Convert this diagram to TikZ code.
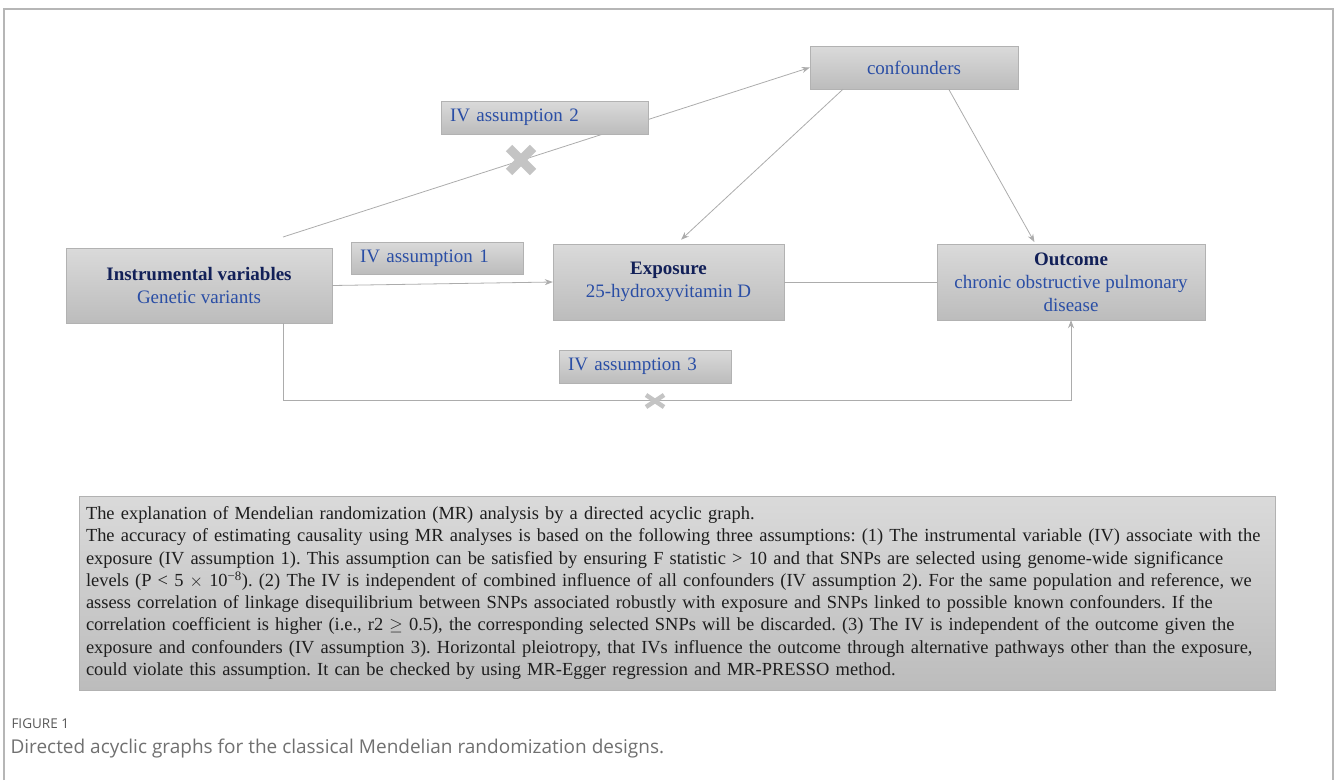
\documentclass[tikz,border=0pt]{standalone}
\usepackage{fontspec}
\setmainfont{Liberation Serif}
\newfontfamily\captionfont{Open Sans}
\usepackage{tikz}
\usetikzlibrary{positioning, calc, arrows.meta, backgrounds}
\definecolor{boxtop}{RGB}{218,218,218}
\definecolor{boxbottom}{RGB}{188,188,188}
\definecolor{boxedge}{RGB}{178,178,178}
\definecolor{linkgray}{RGB}{172,172,172}
\definecolor{crossgray}{RGB}{196,196,196}
\definecolor{headblue}{RGB}{18,32,88}
\definecolor{textblue}{RGB}{42,78,165}
\definecolor{notegray}{RGB}{30,30,30}
\definecolor{capgray}{RGB}{112,112,112}
\definecolor{labelgray}{RGB}{88,88,88}
\definecolor{framegray}{RGB}{182,182,182}
\frenchspacing

\tikzset{
    varbox/.style={draw=boxedge, top color=boxtop, bottom color=boxbottom, inner sep=0pt,
        align=center, text=textblue, font=\fontsize{19}{23}\selectfont},
    ivbox/.style={varbox, align=left, inner xsep=9pt},
    link/.style={draw=linkgray, line width=0.8pt, -{Stealth[length=8pt, width=6pt]}},
    plainlink/.style={draw=linkgray, line width=0.8pt},
    bigcross/.style={draw=crossgray, line width=9pt},
    smallcross/.style={draw=crossgray, line width=4.5pt}
}

\begin{document}
\begin{tikzpicture}[x=1pt, y=-1pt]
    \useasboundingbox (0,0) rectangle (1335,780);

    % Frame
    \draw[framegray, line width=1.2pt] (4,780) -- (4,9) -- (1333,9) -- (1333,780);

    % Variables
    \node[varbox, minimum width=266, minimum height=75] (instr) at (199,285.5)
        {\textcolor{headblue}{\textbf{Instrumental variables}}\\Genetic variants};
    \node[varbox, minimum width=231, minimum height=76] (expo) at (668.5,282)
        {\textcolor{headblue}{\textbf{Exposure}}\\25-hydroxyvitamin D};
    \node[varbox, minimum width=268, minimum height=76] (outc) at (1071,282)
        {\textcolor{headblue}{\textbf{Outcome}}\\chronic obstructive pulmonary\\disease};
    \node[varbox, minimum width=208, minimum height=43] (conf) at (914,67.5) {confounders};

    % Assumption labels
    \node[ivbox, text width=189, minimum height=33] (iv2) at (544.5,117.5) {IV assumption 2};
    \node[ivbox, text width=154, minimum height=32] (iv1) at (437,258) {IV assumption 1};
    \node[ivbox, text width=154, minimum height=33] (iv3) at (645,366.5) {IV assumption 3};

    % Arrows
    \coordinate (ivtop) at (283,237);
    \begin{scope}[on background layer]
        \draw[link] (ivtop) -- (conf.west);
    \end{scope}
    \draw[link] (instr.east) -- (expo.west);
    \draw[link, shorten >=6pt] (conf.197) -- (expo.78);
    \draw[link, shorten >=2pt] (conf.328) -- (outc.133);
    \draw[plainlink] (expo.east) -- (outc.west);
    \draw[link] (instr.south -| ivtop) |- ($(outc.south)+(0,80)$) -- (outc.south);

    % Crosses
    \coordinate (cut2) at (521,160);
    \draw[bigcross] ($(cut2)+(-12,-12)$) -- ($(cut2)+(12,12)$);
    \draw[bigcross] ($(cut2)+(-12,12)$) -- ($(cut2)+(12,-12)$);
    \coordinate (cut3) at (655,401);
    \draw[smallcross] ($(cut3)+(-9,-6)$) -- ($(cut3)+(9,6)$);
    \draw[smallcross] ($(cut3)+(-9,6)$) -- ($(cut3)+(9,-6)$);

    % Explanation
    \node[varbox, minimum width=1196, minimum height=194, text width=1182, inner xsep=7pt,
        align=left, text=notegray, font=\fontsize{18.45}{22.3}\selectfont] (note) at (677,593)
        {The explanation of Mendelian randomization (MR) analysis by a directed acyclic graph.\\
        The accuracy of estimating causality using MR analyses is based on the following three assumptions: (1) The instrumental variable (IV) associate with the\\
        exposure (IV assumption 1). This assumption can be satisfied by ensuring F statistic > 10 and that SNPs are selected using genome-wide significance\\
        levels (P < 5 $\times$ 10\textsuperscript{\textminus 8}). (2) The IV is independent of combined influence of all confounders (IV assumption 2). For the same population and reference, we\\
        assess correlation of linkage disequilibrium between SNPs associated robustly with exposure and SNPs linked to possible known confounders. If the\\
        correlation coefficient is higher (i.e., r2 $\geq$ 0.5), the corresponding selected SNPs will be discarded. (3) The IV is independent of the outcome given the\\
        exposure and confounders (IV assumption 3). Horizontal pleiotropy, that IVs influence the outcome through alternative pathways other than the exposure,\\
        could violate this assumption. It can be checked by using MR-Egger regression and MR-PRESSO method.};

    % Caption
    \node[anchor=west, text=labelgray, font=\captionfont\fontsize{13.5}{15}\selectfont] (figlabel) at (8,724) {FIGURE 1};
    \node[anchor=west, text=capgray, font=\captionfont\fontsize{19}{22}\selectfont] (figtitle) at (7,748)
        {Directed acyclic graphs for the classical Mendelian randomization designs.};
\end{tikzpicture}
\end{document}
